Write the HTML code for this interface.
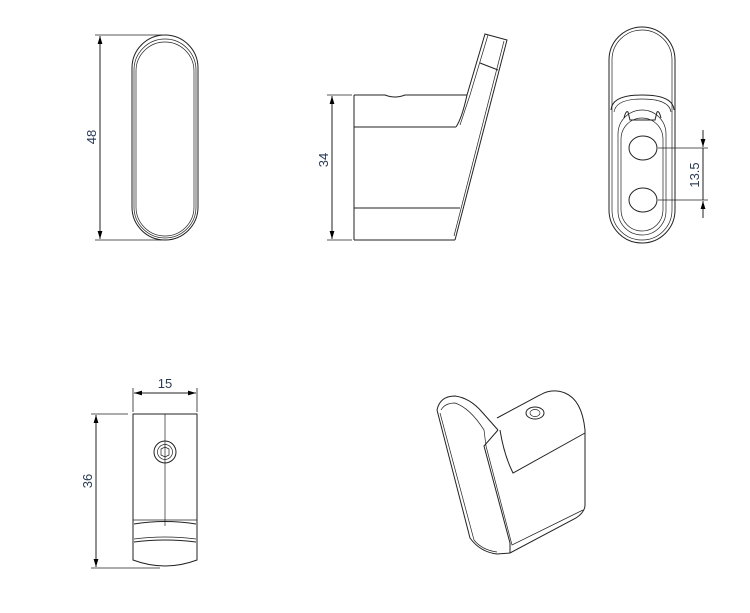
<!DOCTYPE html>
<html><head><meta charset="utf-8"><style>
html,body{margin:0;padding:0;background:#fff;width:750px;height:613px;overflow:hidden}
svg{display:block}
text{font-family:"Liberation Sans",sans-serif;font-size:13px;fill:#2a3a55}
</style></head><body>
<svg width="750" height="613" viewBox="0 0 750 613" xmlns="http://www.w3.org/2000/svg">
<defs>
<marker id="a" viewBox="0 0 10 10" refX="10" refY="5" markerWidth="8" markerHeight="8" orient="auto-start-reverse"><path d="M0,2 L10,5 L0,8 z" fill="#000"/></marker>
</defs>
<g fill="none" stroke="#222" stroke-width="1">
<!-- View 1 -->
<line x1="95" y1="35" x2="162" y2="35" stroke-width="0.8"/>
<line x1="95" y1="240" x2="162" y2="240" stroke-width="0.8"/>
<line x1="100" y1="36" x2="100" y2="239" marker-start="url(#a)" marker-end="url(#a)"/>
<rect x="132" y="35" width="66" height="205" rx="33" ry="33"/>
<rect x="134" y="39" width="62" height="199" rx="31" ry="31" stroke-width="0.7"/>
<rect x="136" y="42" width="58" height="194" rx="29" ry="29" stroke-width="0.7"/>
<!-- View 2 -->
<line x1="327" y1="95" x2="352" y2="95" stroke-width="0.8"/>
<line x1="327" y1="240" x2="352" y2="240" stroke-width="0.8"/>
<line x1="332" y1="96" x2="332" y2="239" marker-start="url(#a)" marker-end="url(#a)"/>
<line x1="354" y1="95" x2="354" y2="240"/>
<path d="M354,95 L385,95 Q395,99 405,95 L467,95"/>
<line x1="354" y1="127" x2="456" y2="127"/>
<line x1="354" y1="208" x2="460" y2="208"/>
<line x1="354" y1="240" x2="455" y2="240"/>
<path d="M456,127 Q462,118 467,95 L485,34 L507,40 L455,240"/>
<path d="M488,35 L470,95 L460,125" stroke-width="0.7"/>
<path d="M504,41 L454,236" stroke-width="0.7"/>
<line x1="480" y1="63" x2="498" y2="70"/>
<!-- View 3 -->
<rect x="609" y="27" width="66" height="216" rx="33" ry="33"/>
<rect x="612" y="30" width="60" height="210" rx="30" ry="30" stroke-width="0.7"/>
<path d="M611,110 Q612,95 642,95 Q673,95 674,110"/>
<path d="M614,112 Q616,99 642,99 Q669,99 671,112" stroke-width="0.7"/>
<rect x="618" y="110" width="48" height="125" rx="24" ry="24" stroke-width="0.7"/>
<rect x="621" y="118" width="42" height="113" rx="21" ry="21" stroke-width="0.7"/>
<path d="M624,118 Q626,110 628,112 L630,120 L655,120 L657,112 Q659,110 661,118"/>
<ellipse cx="643" cy="148" rx="14" ry="12"/>
<ellipse cx="643" cy="200" rx="14" ry="12"/>
<line x1="658" y1="148" x2="708" y2="148" stroke-width="0.8"/>
<line x1="658" y1="200" x2="708" y2="200" stroke-width="0.8"/>
<line x1="703" y1="130" x2="703" y2="147" marker-end="url(#a)"/>
<line x1="703" y1="218" x2="703" y2="201" marker-end="url(#a)"/>
<line x1="703" y1="148" x2="703" y2="200"/>
<!-- View 4 -->
<line x1="133" y1="388" x2="133" y2="412" stroke-width="0.8"/>
<line x1="197" y1="388" x2="197" y2="412" stroke-width="0.8"/>
<line x1="134" y1="393" x2="196" y2="393" marker-start="url(#a)" marker-end="url(#a)"/>
<line x1="91" y1="414" x2="128" y2="414" stroke-width="0.8"/>
<line x1="91" y1="568" x2="160" y2="568" stroke-width="0.8"/>
<line x1="96" y1="415" x2="96" y2="567" marker-start="url(#a)" marker-end="url(#a)"/>
<path d="M133,414 L133,560 Q165,572 197,560 L197,414 Z"/>
<line x1="165" y1="414" x2="165" y2="526" stroke-width="0.7"/>
<circle cx="165" cy="452" r="11"/>
<circle cx="165" cy="452" r="7.5" stroke-width="0.7"/>
<path d="M161,449 L165,447 L169,449 L169,455 L165,457 L161,455 Z" stroke-width="0.7"/>
<line x1="133" y1="520" x2="197" y2="520" stroke-width="0.7"/>
<path d="M134,524 Q165,519 196,524"/>
<path d="M134,539 Q165,535 196,539" stroke-width="0.7"/>
<path d="M134,542 Q165,538 196,542"/>
<!-- View 5 -->
<path d="M437,410 Q440,396 455,396 Q470,398 482,412 L498,430"/>
<path d="M437,410 L470,538 Q480,552 497,554 L510,553 L576,518 Q585,512 585,505 L585,430 Q582,400 565,393 Q552,388 540,395 L497,418"/>
<path d="M441,410 Q445,403 455,403 Q470,408 484,430 L486,446" stroke-width="0.7"/>
<path d="M440,413 L474,540 Q482,550 497,552" stroke-width="0.7"/>
<path d="M498,430 L484,446 L510,543 L510,553"/>
<path d="M486,446 L512,545 L583,510" stroke-width="0.7"/>
<path d="M500,430 Q504,455 513,473 L585,433"/>
<ellipse cx="535" cy="413" rx="9" ry="6"/>
<ellipse cx="535" cy="413" rx="5" ry="3.5" stroke-width="0.7"/>
</g>
<text transform="translate(96,137) rotate(-90)" text-anchor="middle">48</text>
<text transform="translate(328,160) rotate(-90)" text-anchor="middle">34</text>
<text transform="translate(699,175) rotate(-90)" text-anchor="middle">13.5</text>
<text x="165" y="388" text-anchor="middle">15</text>
<text transform="translate(92,481) rotate(-90)" text-anchor="middle">36</text>
</svg>
</body></html>
